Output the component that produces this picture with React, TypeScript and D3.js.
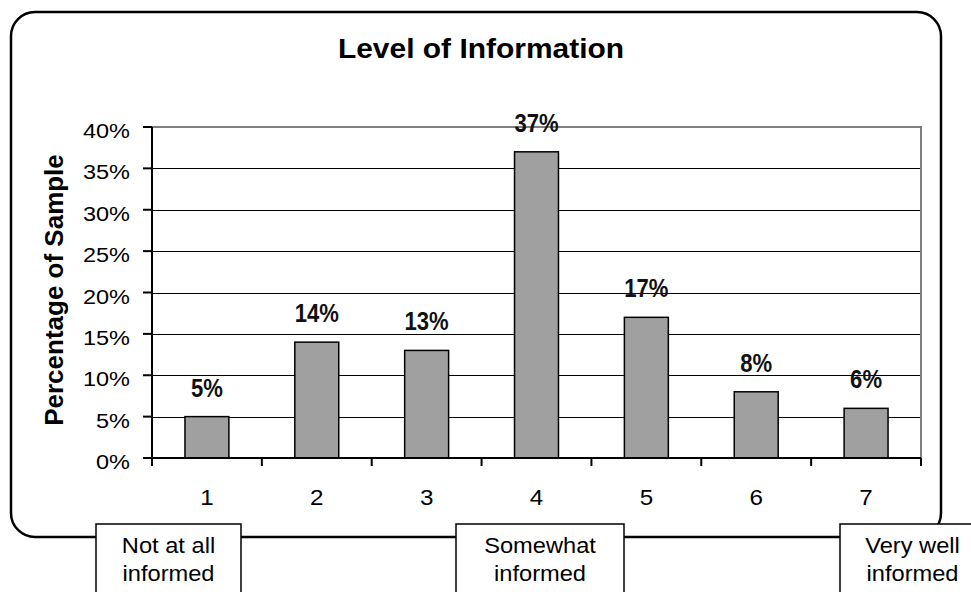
import React from "react";
import * as d3 from "d3";

const categories = ["1", "2", "3", "4", "5", "6", "7"];
const values = [0.05, 0.14, 0.13, 0.37, 0.17, 0.08, 0.06];
const yTicks = [0, 0.05, 0.1, 0.15, 0.2, 0.25, 0.3, 0.35, 0.4];
const title = "Level of Information";
const yTitle = "Percentage of Sample";
const anchorTexts = [
  ["Not at all", "informed"],
  ["Somewhat", "informed"],
  ["Very well", "informed"],
];

// layout of the anchor boxes (left, width)
const anchorBoxes = [
  { left: 96, width: 145 },
  { left: 456, width: 168 },
  { left: 840, width: 145 },
];

const W = 971;
const H = 592;
const FONT = "'Liberation Sans', Arial, Helvetica, sans-serif";

const plotL = 152;
const plotR = 921;
const plotT = 127;
const plotB = 458;

export default function App() {
  const x = d3
    .scaleBand<string>()
    .domain(categories)
    .range([plotL, plotR])
    .paddingInner(0.6)
    .paddingOuter(0.3);
  const step = (plotR - plotL) / categories.length;
  const y = d3.scaleLinear().domain([0, 0.4]).range([plotB, plotT]);
  const fmt = d3.format(".0%");

  const centerOf = (c: string) => (x(c) as number) + x.bandwidth() / 2;
  const boundaries = d3.range(categories.length + 1).map((i) => plotL + i * step);

  return (
    <svg
      width={W}
      height={H}
      style={{ position: "absolute", left: 0, top: 0, background: "#fff" }}
      fontFamily={FONT}
    >
      <rect x={0} y={0} width={W} height={H} fill="#fff" />
      <rect
        x={11}
        y={12}
        width={930}
        height={525}
        rx={24}
        ry={24}
        fill="#fff"
        stroke="#000"
        strokeWidth={2.5}
      />
      <text
        transform={`translate(481,58) scale(1.07,1)`}
        textAnchor="middle"
        fontSize={28}
        fontWeight="bold"
      >
        {title}
      </text>
      <text
        transform={`translate(63,290) rotate(-90) scale(1.04,1)`}
        textAnchor="middle"
        fontSize={25}
        fontWeight="bold"
      >
        {yTitle}
      </text>
      {yTicks
        .filter((t) => t > 0 && t < 0.4)
        .map((t) => (
          <line
            key={"g" + t}
            x1={plotL}
            x2={plotR}
            y1={Math.round(y(t)) + 0.5}
            y2={Math.round(y(t)) + 0.5}
            stroke="#000"
            strokeWidth={1}
          />
        ))}
      <polyline
        points={`${plotL},${y(0.4)} ${plotR},${y(0.4)} ${plotR},${plotB}`}
        fill="none"
        stroke="#808080"
        strokeWidth={2}
      />
      {categories.map((c, i) => (
        <rect
          key={"b" + c}
          x={x(c)}
          y={y(values[i])}
          width={x.bandwidth()}
          height={plotB - y(values[i])}
          fill="#a0a0a0"
          stroke="#000"
          strokeWidth={1.5}
        />
      ))}
      {categories.map((c, i) => (
        <text
          key={"v" + c}
          transform={`translate(${centerOf(c)},${y(values[i]) - 20}) scale(0.92,1.05)`}
          textAnchor="middle"
          fontSize={24}
          fontWeight="bold"
          fill="#111"
        >
          {fmt(values[i])}
        </text>
      ))}
      <line x1={plotL} x2={plotL} y1={plotT} y2={plotB + 8} stroke="#000" strokeWidth={2} />
      {yTicks.map((t) => (
        <g key={"yt" + t}>
          <line x1={plotL - 9} x2={plotL} y1={y(t)} y2={y(t)} stroke="#000" strokeWidth={2} />
          <text
            transform={`translate(130,${y(t) + 11}) scale(1.12,1)`}
            textAnchor="end"
            fontSize={21}
          >
            {fmt(t)}
          </text>
        </g>
      ))}
      <line x1={plotL} x2={plotR} y1={plotB} y2={plotB} stroke="#000" strokeWidth={2} />
      {boundaries.map((bx, i) => (
        <line key={"xt" + i} x1={bx} x2={bx} y1={plotB} y2={plotB + 8} stroke="#000" strokeWidth={2} />
      ))}
      {categories.map((c) => (
        <text
          key={"xl" + c}
          transform={`translate(${centerOf(c)},505) scale(1.1,1)`}
          textAnchor="middle"
          fontSize={22}
        >
          {c}
        </text>
      ))}
      {anchorTexts.map((lines, k) => {
        const b = anchorBoxes[k];
        const cx = b.left + b.width / 2;
        return (
          <g key={"a" + k}>
            <rect
              x={b.left}
              y={524}
              width={b.width}
              height={90}
              fill="#fff"
              stroke="#000"
              strokeWidth={1.5}
            />
            {lines.map((ln, j) => (
              <text
                key={j}
                transform={`translate(${cx},${553 + j * 28}) scale(1.1,1)`}
                textAnchor="middle"
                fontSize={21.5}
              >
                {ln}
              </text>
            ))}
          </g>
        );
      })}
    </svg>
  );
}
